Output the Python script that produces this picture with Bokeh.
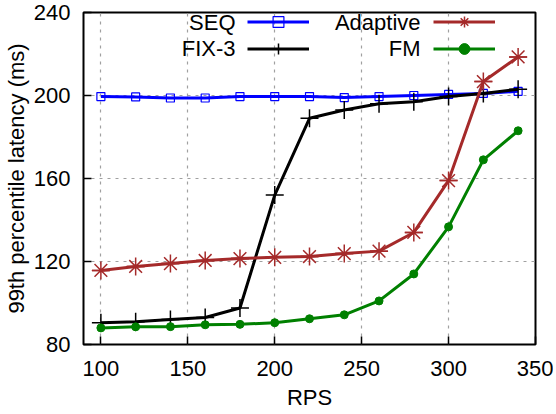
from bokeh.plotting import figure
from bokeh.models import Legend, LegendItem, Label, Range1d, FixedTicker
from bokeh.embed import file_html
from bokeh.resources import INLINE

rps = [100, 120, 140, 160, 180, 200, 220, 240, 260, 280, 300, 320, 340]
seq = [199.5, 199.3, 198.8, 198.8, 199.5, 199.5, 199.5, 199.0, 199.5, 200.0, 200.5, 201.0, 202.0]
fix3 = [90.5, 91.0, 92.0, 93.0, 97.6, 152.0, 189.0, 193.0, 196.0, 197.0, 199.5, 201.0, 203.0]
adaptive = [115.7, 117.6, 119.0, 120.5, 121.4, 122.0, 122.4, 123.8, 125.0, 134.0, 159.0, 206.7, 218.6]
fm = [88.0, 88.5, 88.6, 89.5, 89.7, 90.5, 92.4, 94.3, 101.0, 114.0, 136.7, 169.0, 183.0]
x_ticks = [100, 150, 200, 250, 300, 350]
y_ticks = [80, 120, 160, 200, 240]
x_title = "RPS"
y_title = "99th percentile latency (ms)"

FONT = "Liberation Sans"
FS = "22px"

p = figure(width=553, height=412, output_backend="svg", toolbar_location=None,
           x_range=Range1d(90, 350), y_range=Range1d(80, 240),
           min_border_left=83, min_border_right=18, min_border_top=12, min_border_bottom=67)
p.outline_line_color = "black"
p.outline_line_width = 2
p.background_fill_color = "white"
p.border_fill_color = "white"

for ax in (p.xaxis[0], p.yaxis[0]):
    ax.axis_line_color = None
    ax.major_tick_in = 8
    ax.major_tick_out = 0
    ax.minor_tick_line_color = None
    ax.major_tick_line_color = "black"
    ax.major_tick_line_width = 1.5
    ax.major_label_text_font = FONT
    ax.major_label_text_font_size = FS
    ax.major_label_text_color = "black"
    ax.axis_label_text_font = FONT
    ax.axis_label_text_font_size = FS
    ax.axis_label_text_font_style = "normal"
    ax.axis_label_text_color = "black"
p.xaxis[0].major_label_standoff = 16
p.yaxis[0].major_label_standoff = 13
p.xaxis[0].ticker = FixedTicker(ticks=x_ticks)
p.yaxis[0].ticker = FixedTicker(ticks=y_ticks)
p.xaxis[0].axis_label = x_title
p.xaxis[0].axis_label_standoff = 6
p.yaxis[0].axis_label = y_title
p.yaxis[0].axis_label_standoff = 2

for g in (p.xgrid[0], p.ygrid[0]):
    g.grid_line_color = "#a0a0a0"
    g.grid_line_dash = "3 5"
    g.grid_line_width = 1.2

BLUE = "#0000ff"
BROWN = "#a52a2a"
GREEN = "#008000"
BLACK = "#000000"

l_seq = p.line(rps, seq, color=BLUE, line_width=3)
m_seq = p.scatter(rps, seq, marker="square", size=8, fill_color=None, line_color=BLUE, line_width=1.2)

l_fix = p.line(rps, fix3, color=BLACK, line_width=3)
m_fix = p.scatter(rps, fix3, marker="cross", size=18, line_color=BLACK, line_width=1.5)

l_ad = p.line(rps, adaptive, color=BROWN, line_width=3)
m_ad = p.scatter(rps, adaptive, marker="asterisk", size=18, line_color=BROWN, line_width=1.5)
m_ad2 = p.scatter(rps, adaptive, marker="dash", size=18, line_color=BROWN, line_width=1.5)

l_fm = p.line(rps, fm, color=GREEN, line_width=3)
m_fm = p.scatter(rps, fm, marker="circle", size=8, fill_color=GREEN, line_color=GREEN)

legend = Legend(items=[
    LegendItem(label=" ", renderers=[l_seq, m_seq]),
    LegendItem(label=" ", renderers=[l_fix, m_fix]),
    LegendItem(label=" ", renderers=[l_ad, m_ad, m_ad2]),
    LegendItem(label=" ", renderers=[l_fm, m_fm]),
], ncols=2, glyph_width=62, glyph_height=27, label_width=124, label_standoff=0,
   padding=0, margin=0, spacing=0, border_line_color=None, background_fill_alpha=0,
   label_text_font_size="1px", location=(164, 282))
p.add_layout(legend, "center")

names = ["SEQ", "FIX-3", "Adaptive", "FM"]
lx = [152, 152, 337, 337]
ly = [322, 296, 322, 296]
for n, x, y in zip(names, lx, ly):
    p.add_layout(Label(x=x, y=y, x_units="screen", y_units="screen", text=n,
                       text_align="right", text_baseline="middle",
                       text_font=FONT, text_font_size=FS, text_color="black"))

open("out.html", "w").write(file_html(p, INLINE))
